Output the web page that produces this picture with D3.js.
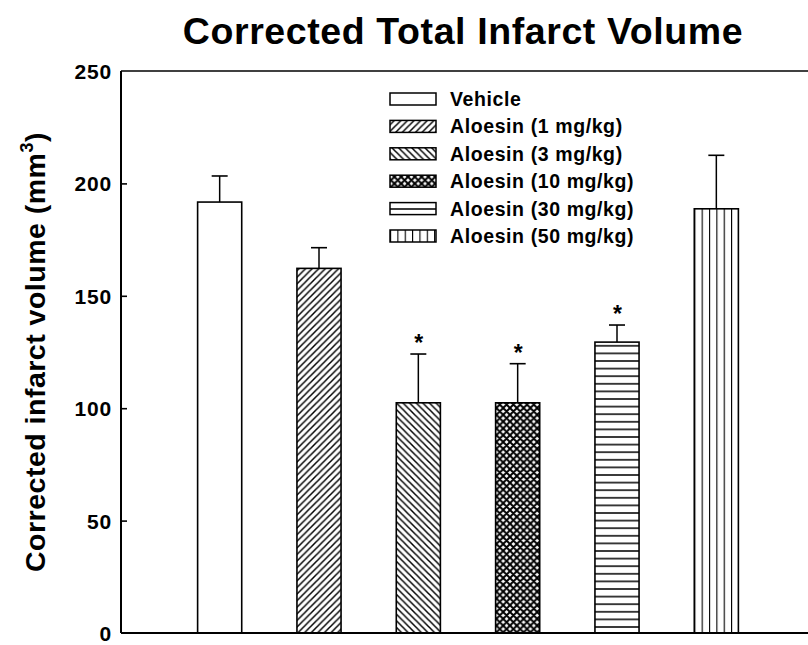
<!DOCTYPE html>
<html>
<head>
<meta charset="utf-8">
<script src="https://cdn.jsdelivr.net/npm/d3@7"></script>
<style>
  html, body { margin: 0; padding: 0; background: #fff; }
  svg { display: block; font-family: "Liberation Sans", Arial, sans-serif; }
</style>
</head>
<body>
<svg id="chart" width="808" height="645"></svg>
<script>
// ---- data ----
const categories = ["Vehicle", "Aloesin (1 mg/kg)", "Aloesin (3 mg/kg)", "Aloesin (10 mg/kg)", "Aloesin (30 mg/kg)", "Aloesin (50 mg/kg)"];
const means = [191.7, 162.2, 102.4, 102.4, 129.4, 188.7];
const errors = [11.6, 9.2, 21.7, 17.4, 7.6, 23.8];
const significant = [false, false, true, true, true, false];
const patternNames = ["none", "fwd", "back", "cross", "horiz", "vert"];
const yTicks = [0, 50, 100, 150, 200, 250];
const titleText = "Corrected Total Infarct Volume";
const yLabelText = "Corrected infarct volume (mm";

// ---- layout ----
const svg = d3.select("#chart");
const plot = { left: 121, right: 830, top: 71, bottom: 633 };

const y = d3.scaleLinear().domain([0, 250]).range([plot.bottom, plot.top]);
const x = d3.scaleBand().domain(categories).range([170, 766]).paddingInner(0.556).paddingOuter(0.278);

// ---- patterns ----
const defs = svg.append("defs");
function pat(id, size, draw) {
  const p = defs.append("pattern").attr("id", id).attr("patternUnits", "userSpaceOnUse")
    .attr("width", size).attr("height", size);
  p.append("rect").attr("width", size).attr("height", size).attr("fill", "#fff");
  draw(p, size);
}
pat("fwd", 6.6, (p, s) => {
  p.append("path").attr("d", `M0,${s} L${s},0 M${-s/2},${s/2} L${s/2},${-s/2} M${s/2},${s*1.5} L${s*1.5},${s/2}`)
    .attr("stroke", "#000").attr("stroke-width", 1.5);
});
pat("back", 6.6, (p, s) => {
  p.append("path").attr("d", `M0,0 L${s},${s} M${-s/2},${s/2} L${s/2},${s*1.5} M${s/2},${-s/2} L${s*1.5},${s/2}`)
    .attr("stroke", "#000").attr("stroke-width", 1.5);
});
pat("cross", 6.8, (p, s) => {
  p.append("path").attr("d", `M0,0 L${s},${s} M0,${s} L${s},0 M${-s/2},${s/2} L${s/2},${s*1.5} M${s/2},${-s/2} L${s*1.5},${s/2} M${-s/2},${s/2} L${s/2},${-s/2} M${s/2},${s*1.5} L${s*1.5},${s/2}`)
    .attr("stroke", "#000").attr("stroke-width", 2);
});
defs.append("pattern").attr("id", "horiz").attr("patternUnits", "userSpaceOnUse")
  .attr("width", 8).attr("height", 7.6)
  .call(p => {
    p.append("rect").attr("width", 8).attr("height", 7.6).attr("fill", "#fff");
    p.append("line").attr("x1", 0).attr("x2", 8).attr("y1", 3.8).attr("y2", 3.8)
      .attr("stroke", "#000").attr("stroke-width", 1.5);
  });
function vertPattern(id, x0) {
  defs.append("pattern").attr("id", id).attr("patternUnits", "userSpaceOnUse")
    .attr("x", x0).attr("width", 7.35).attr("height", 8)
    .call(p => {
      p.append("rect").attr("width", 7.35).attr("height", 8).attr("fill", "#fff");
      p.append("line").attr("x1", 0).attr("x2", 0).attr("y1", 0).attr("y2", 8)
        .attr("stroke", "#000").attr("stroke-width", 2.2);
    });
}
vertPattern("vert", x(categories[5]));
vertPattern("vertLeg", 390);
function fillFor(name, legend) {
  if (name === "none") return "#fff";
  if (name === "vert" && legend) return "url(#vertLeg)";
  return `url(#${name})`;
}

// ---- title ----
svg.append("text").attr("x", 463).attr("y", 44).attr("text-anchor", "middle")
  .attr("font-size", 37.5).attr("letter-spacing", 0.6).attr("font-weight", "bold").text(titleText);

// ---- axes frame ----
const g = svg.append("g");
g.append("line").attr("x1", plot.left).attr("x2", plot.right).attr("y1", plot.top).attr("y2", plot.top)
  .attr("stroke", "#000").attr("stroke-width", 1.5);

// bars
g.selectAll("rect.bar").data(categories).enter().append("rect")
  .attr("class", "bar")
  .attr("x", d => x(d))
  .attr("width", x.bandwidth())
  .attr("y", (d, i) => y(means[i]))
  .attr("height", (d, i) => y(0) - y(means[i]))
  .attr("fill", (d, i) => fillFor(patternNames[i], false))
  .attr("stroke", "#000").attr("stroke-width", 1.6);

// error bars
const eb = g.selectAll("g.err").data(categories).enter().append("g").attr("class", "err");
eb.append("line")
  .attr("x1", d => x(d) + x.bandwidth() / 2).attr("x2", d => x(d) + x.bandwidth() / 2)
  .attr("y1", (d, i) => y(means[i])).attr("y2", (d, i) => y(means[i] + errors[i]))
  .attr("stroke", "#000").attr("stroke-width", 1.5);
eb.append("line")
  .attr("x1", d => x(d) + x.bandwidth() / 2 - 8).attr("x2", d => x(d) + x.bandwidth() / 2 + 8)
  .attr("y1", (d, i) => y(means[i] + errors[i])).attr("y2", (d, i) => y(means[i] + errors[i]))
  .attr("stroke", "#000").attr("stroke-width", 1.6);

// significance stars
g.selectAll("text.star").data(categories.filter((d, i) => significant[i])).enter().append("text")
  .attr("class", "star")
  .attr("x", d => x(d) + x.bandwidth() / 2 + 0.5)
  .attr("y", d => { const i = categories.indexOf(d); return y(means[i] + errors[i]) - 3; })
  .attr("text-anchor", "middle").attr("font-size", 23).attr("font-weight", "bold").text("*");

// y axis
const yAxis = d3.axisLeft(y).tickValues(yTicks).tickSize(-6).tickPadding(9).tickFormat(d3.format("d"));
const ya = svg.append("g").attr("transform", `translate(${plot.left},0)`).call(yAxis);
ya.select(".domain").attr("stroke", "#000").attr("stroke-width", 2).attr("d", `M0,${plot.top}V${plot.bottom}`);
ya.selectAll(".tick line").attr("stroke", "#000").attr("stroke-width", 1.6)
  .attr("display", d => (d === 0 || d === 250) ? "none" : null);
ya.selectAll(".tick text").attr("font-size", 21).attr("letter-spacing", 0.8).attr("font-weight", "bold")
  .attr("font-family", "Liberation Sans, Arial, sans-serif").attr("fill", "#000").attr("dy", "0.36em");

// x axis (baseline only)
const xAxis = d3.axisBottom(x).tickSize(0).tickFormat("");
const xa = svg.append("g").attr("transform", `translate(0,${plot.bottom})`).call(xAxis);
xa.select(".domain").attr("stroke", "#000").attr("stroke-width", 2).attr("d", `M${plot.left},0H${plot.right}`);

// y label
const yl = svg.append("text").attr("transform", `translate(45,352) rotate(-90)`)
  .attr("text-anchor", "middle").attr("font-size", 28.5).attr("letter-spacing", 0.5).attr("font-weight", "bold");
yl.append("tspan").text(yLabelText);
yl.append("tspan").attr("font-size", 18).attr("dy", -12).text("3");
yl.append("tspan").attr("dy", 12).text(")");

// legend
const leg = svg.append("g");
const legY0 = 99, legStep = 27.4;
categories.forEach((c, i) => {
  const cy = legY0 + i * legStep;
  leg.append("rect").attr("x", 390).attr("y", cy - 6).attr("width", 46).attr("height", 12)
    .attr("fill", fillFor(patternNames[i], true)).attr("stroke", "#000").attr("stroke-width", 1.5);
  leg.append("text").attr("x", 450).attr("y", cy).attr("dy", "0.36em")
    .attr("font-size", 19.5).attr("letter-spacing", 0.6).attr("font-weight", "bold").text(c);
});
</script>
</body>
</html>
